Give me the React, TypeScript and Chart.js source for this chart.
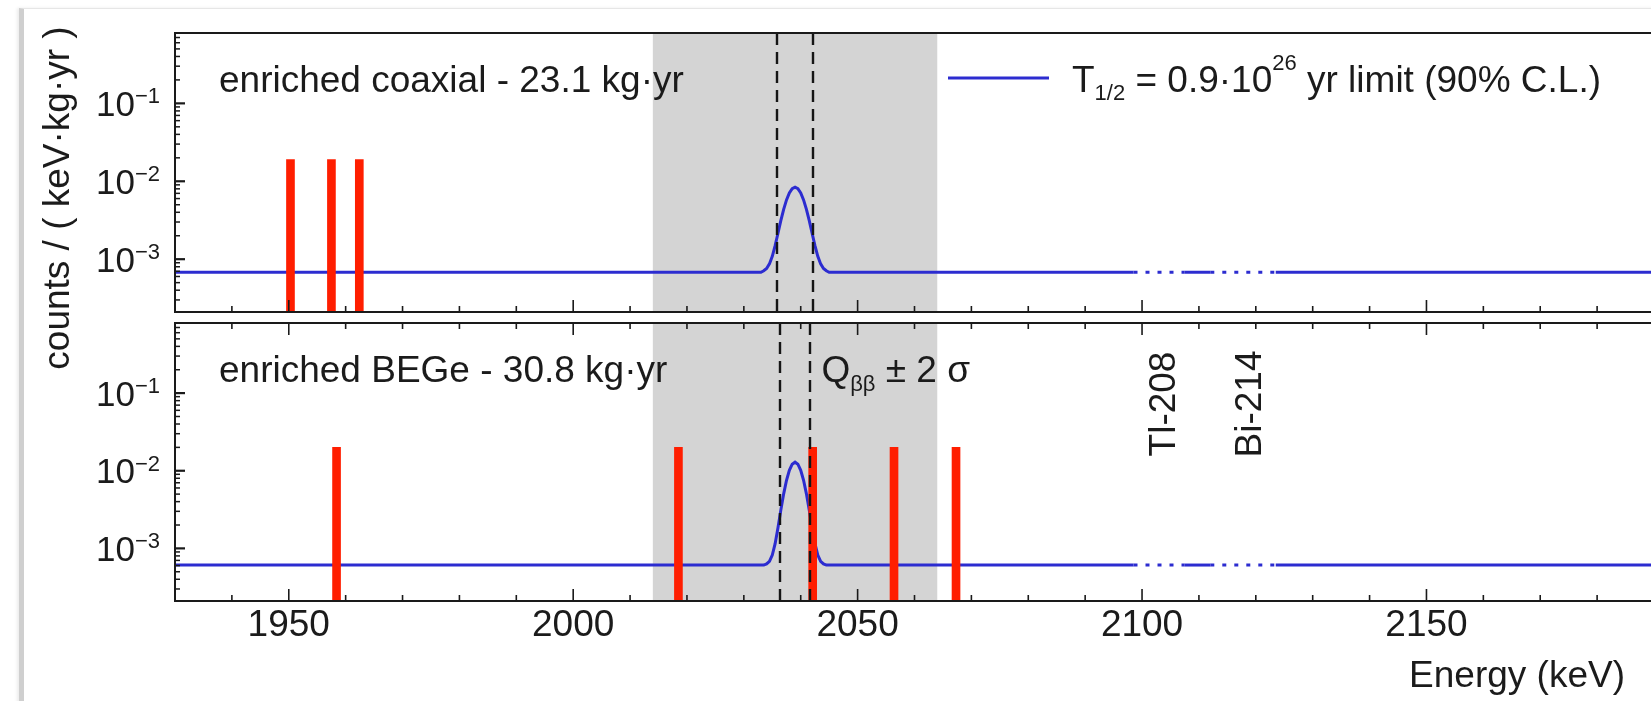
import { useEffect, useRef } from "react";
import { Chart, registerables } from "chart.js";

Chart.register(...registerables);

// ---- energy axis (keV) ----
const E_MIN = 1930;
const E_MAX = 2190;
const E_TICK_LABELS = [1950, 2000, 2050, 2100, 2150];
const E_MINOR_STEP = 10;

// ---- rate axis: counts / (keV·kg·yr), logarithmic ----
const RATE_MIN = 2.1e-4;
const RATE_MAX = 0.8;
const RATE_TICK_EXPONENTS = [-1, -2, -3];

// ---- blinded window and Qββ ± 2σ ----
const BLIND_WINDOW = [2014, 2064];
const COAX_QBB_2SIGMA = [2035.8, 2042.2];
const BEGE_QBB_2SIGMA = [2036.3, 2041.7];

// ---- background gamma lines excluded from the fit ----
const GAMMA_LINES = [2103.5, 2118.6];
const GAMMA_LABELS = ["Tl-208", "Bi-214"];
const EXCLUDED_WINDOWS = [
  [2098.5, 2107.5],
  [2112, 2123.5],
];

// ---- observed events ----
const COAX_EVENTS = [1950.3, 1957.5, 1962.4];
const COAX_EVENT_RATE = 0.019;
const BEGE_EVENTS = [1958.4, 2018.5, 2042.1, 2056.4, 2067.3];
const BEGE_EVENT_RATE = 0.02;

// ---- 90% C.L. limit curve (background + signal at T1/2 limit) ----
const LIMIT_ENERGY = [
  1930, 2033, 2033.5, 2034, 2034.5, 2035, 2035.5, 2036, 2036.5, 2037, 2037.5,
  2038, 2038.5, 2039, 2039.5, 2040, 2040.5, 2041, 2041.5, 2042, 2042.5, 2043,
  2043.5, 2044, 2044.5, 2045, 2098.5, 2107.5, 2112, 2123.5, 2190,
];
const COAX_LIMIT = [
  6.8e-4, 6.8e-4, 7.1e-4, 7.6e-4, 8.7e-4, 1.09e-3, 1.49e-3, 2.15e-3, 3.12e-3,
  4.37e-3, 5.77e-3, 7.09e-3, 8.03e-3, 8.4e-3, 8.03e-3, 7.09e-3, 5.77e-3,
  4.37e-3, 3.12e-3, 2.15e-3, 1.49e-3, 1.09e-3, 8.7e-4, 7.6e-4, 7.1e-4, 6.8e-4,
  6.8e-4, 6.8e-4, 6.8e-4, 6.8e-4, 6.8e-4,
];
const BEGE_LIMIT = [
  6.1e-4, 6.1e-4, 6.1e-4, 6.3e-4, 6.8e-4, 8.2e-4, 1.15e-3, 1.85e-3, 3.11e-3,
  5.04e-3, 7.54e-3, 1.014e-2, 1.215e-2, 1.29e-2, 1.215e-2, 1.014e-2, 7.54e-3,
  5.04e-3, 3.11e-3, 1.85e-3, 1.15e-3, 8.2e-4, 6.8e-4, 6.3e-4, 6.1e-4, 6.1e-4,
  6.1e-4, 6.1e-4, 6.1e-4, 6.1e-4, 6.1e-4,
];

// ---- styling ----
const FONT = "'Liberation Sans', Arial, Helvetica, sans-serif";
const TEXT_SIZE = 37;
const INK = "#1b1b1b";
const RED = "#ff1e00";
const BLUE = "#2c2cd0";
const BAND = "#d4d4d4";

const CANVAS_W = 1680;
const CANVAS_H = 701;
const PLOT_LEFT = 175;
const PLOT_RIGHT = 1654;
const TOP_PANEL = { top: 33, bottom: 312 };
const BOTTOM_PANEL = { top: 323, bottom: 601 };
const X_AXIS_HEIGHT = 60;

type Run = { t: string; size: number; dy?: number };

function runsWidth(ctx: CanvasRenderingContext2D, runs: Run[]) {
  let w = 0;
  for (const r of runs) {
    ctx.font = `${r.size}px ${FONT}`;
    w += ctx.measureText(r.t).width;
  }
  return w;
}

function drawRuns(ctx: CanvasRenderingContext2D, x: number, y: number, runs: Run[]) {
  let cx = x;
  ctx.textAlign = "left";
  ctx.textBaseline = "alphabetic";
  for (const r of runs) {
    ctx.font = `${r.size}px ${FONT}`;
    ctx.fillText(r.t, cx, y + (r.dy || 0));
    cx += ctx.measureText(r.t).width;
  }
}

function inExcluded(e0: number, e1: number) {
  return EXCLUDED_WINDOWS.some(([lo, hi]) => e0 >= lo && e1 <= hi);
}

type PanelSpec = {
  key: string;
  title: string;
  events: number[];
  eventRate: number;
  limit: number[];
  qbb: number[];
  isBottom: boolean;
};

function decorPlugin(p: PanelSpec) {
  return {
    id: "decor_" + p.key,
    beforeDatasetsDraw(chart: any) {
      const { ctx, chartArea: a, scales } = chart;
      const x = scales.x;
      const x0 = x.getPixelForValue(BLIND_WINDOW[0]);
      const x1 = x.getPixelForValue(BLIND_WINDOW[1]);
      ctx.save();
      ctx.fillStyle = BAND;
      ctx.fillRect(x0, a.top, x1 - x0, a.bottom - a.top);
      ctx.restore();
    },
    afterDatasetsDraw(chart: any) {
      const { ctx, chartArea: a, scales } = chart;
      ctx.save();
      ctx.strokeStyle = "#151515";
      ctx.lineWidth = 2.4;
      ctx.setLineDash([12, 7]);
      for (const q of p.qbb) {
        const px = Math.round(scales.x.getPixelForValue(q));
        ctx.beginPath();
        ctx.moveTo(px, a.top);
        ctx.lineTo(px, a.bottom);
        ctx.stroke();
      }
      ctx.restore();
    },
    afterDraw(chart: any) {
      const { ctx, chartArea: a, scales } = chart;
      const x = scales.x;
      const y = scales.y;
      ctx.save();

      // frame
      ctx.strokeStyle = "#1a1a1a";
      ctx.lineWidth = 2;
      ctx.strokeRect(a.left, a.top, a.right - a.left, a.bottom - a.top);

      // energy ticks, pointing inwards
      ctx.lineWidth = 1.6;
      const edges = p.isBottom ? ["top", "bottom"] : ["bottom"];
      for (let e = Math.ceil(E_MIN / E_MINOR_STEP) * E_MINOR_STEP; e <= E_MAX; e += E_MINOR_STEP) {
        if (e <= E_MIN || e >= E_MAX) continue;
        const px = x.getPixelForValue(e);
        const len = E_TICK_LABELS.includes(e) ? 12 : 6;
        for (const edge of edges) {
          ctx.beginPath();
          if (edge === "bottom") {
            ctx.moveTo(px, a.bottom);
            ctx.lineTo(px, a.bottom - len);
          } else {
            ctx.moveTo(px, a.top);
            ctx.lineTo(px, a.top + len);
          }
          ctx.stroke();
        }
      }

      // rate ticks on the left edge
      for (let ex = -4; ex <= 0; ex++) {
        for (let k = 1; k <= 9; k++) {
          const v = k * Math.pow(10, ex);
          if (v <= RATE_MIN || v >= RATE_MAX) continue;
          const py = y.getPixelForValue(v);
          const len = k === 1 ? 10 : 5;
          ctx.lineWidth = k === 1 ? 2.2 : 1.5;
          ctx.beginPath();
          ctx.moveTo(a.left, py);
          ctx.lineTo(a.left + len, py);
          ctx.stroke();
        }
      }

      // rate tick labels 10^n
      ctx.fillStyle = INK;
      for (const ex of RATE_TICK_EXPONENTS) {
        const py = y.getPixelForValue(Math.pow(10, ex));
        const runs: Run[] = [
          { t: "10", size: 35 },
          { t: "\u2212" + String(-ex), size: 22, dy: -12.5 },
        ];
        const w = runsWidth(ctx, runs);
        drawRuns(ctx, a.left - 15 - w, py + 12.5, runs);
      }

      // panel title
      ctx.font = `${TEXT_SIZE}px ${FONT}`;
      ctx.textAlign = "left";
      ctx.textBaseline = "alphabetic";
      ctx.fillText(p.title, a.left + 44, a.top + 59);

      if (!p.isBottom) {
        // legend
        ctx.strokeStyle = BLUE;
        ctx.lineWidth = 3;
        ctx.beginPath();
        ctx.moveTo(948, a.top + 45);
        ctx.lineTo(1049, a.top + 45);
        ctx.stroke();
        drawRuns(ctx, 1072, a.top + 59, [
          { t: "T", size: TEXT_SIZE },
          { t: "1/2", size: 22, dy: 8 },
          { t: " = 0.9\u00b710", size: TEXT_SIZE },
          { t: "26", size: 22, dy: -22 },
          { t: " yr limit (90% C.L.)", size: TEXT_SIZE },
        ]);

        // y-axis title
        ctx.save();
        ctx.translate(69, 198);
        ctx.rotate(-Math.PI / 2);
        ctx.font = `${TEXT_SIZE}px ${FONT}`;
        ctx.textAlign = "center";
        ctx.textBaseline = "alphabetic";
        ctx.fillText("counts / ( keV\u00b7kg\u00b7yr )", 0, 0);
        ctx.restore();
      } else {
        // Qββ ± 2σ label
        const qx = x.getPixelForValue(p.qbb[1]) + 11;
        drawRuns(ctx, qx, a.top + 59, [
          { t: "Q", size: TEXT_SIZE },
          { t: "\u03b2\u03b2", size: 22, dy: 9 },
          { t: " \u00b1 2 \u03c3", size: TEXT_SIZE },
        ]);

        // gamma line labels, vertical
        GAMMA_LINES.forEach((e, i) => {
          ctx.save();
          ctx.translate(x.getPixelForValue(e) + 13, a.top + 81);
          ctx.rotate(-Math.PI / 2);
          ctx.font = `${TEXT_SIZE}px ${FONT}`;
          ctx.textAlign = "center";
          ctx.textBaseline = "alphabetic";
          ctx.fillText(GAMMA_LABELS[i], 0, 0);
          ctx.restore();
        });

        // energy axis title
        ctx.font = `${TEXT_SIZE}px ${FONT}`;
        ctx.textAlign = "right";
        ctx.textBaseline = "alphabetic";
        ctx.fillText("Energy (keV)", a.right - 29, a.bottom + 86);
      }

      ctx.restore();
    },
  };
}

function buildConfig(p: PanelSpec): any {
  const panel = p.isBottom ? BOTTOM_PANEL : TOP_PANEL;
  const padding = p.isBottom
    ? { left: PLOT_LEFT, top: panel.top, right: CANVAS_W - PLOT_RIGHT, bottom: CANVAS_H - panel.bottom - X_AXIS_HEIGHT }
    : { left: PLOT_LEFT, top: panel.top, right: CANVAS_W - PLOT_RIGHT, bottom: CANVAS_H - panel.bottom };

  const xScale: any = {
    type: "linear",
    min: E_MIN,
    max: E_MAX,
    offset: false,
    display: p.isBottom,
    grid: { display: false, drawTicks: false },
    border: { display: false },
    afterBuildTicks: (scale: any) => {
      scale.ticks = E_TICK_LABELS.map((v) => ({ value: v }));
    },
    ticks: {
      autoSkip: false,
      maxRotation: 0,
      padding: 3,
      color: INK,
      font: { family: FONT, size: TEXT_SIZE },
      callback: (v: any) => String(v),
    },
  };
  if (p.isBottom) {
    xScale.afterFit = (scale: any) => {
      scale.height = X_AXIS_HEIGHT;
    };
  }

  return {
    type: "bar",
    data: {
      datasets: [
        {
          type: "bar",
          label: "events",
          data: p.events.map((e) => ({ x: e, y: p.eventRate })),
          backgroundColor: RED,
          borderWidth: 0,
          barThickness: 8,
          base: RATE_MIN,
          order: 0,
        },
        {
          type: "line",
          label: "limit",
          data: LIMIT_ENERGY.map((e, i) => ({ x: e, y: p.limit[i] })),
          borderColor: BLUE,
          borderWidth: 3,
          pointRadius: 0,
          tension: 0,
          fill: false,
          order: 1,
          segment: {
            borderDash: (ctx: any) =>
              inExcluded(ctx.p0.parsed.x, ctx.p1.parsed.x) ? [4, 8] : undefined,
          },
        },
      ],
    },
    options: {
      responsive: false,
      animation: false,
      devicePixelRatio: 1,
      events: [],
      layout: { padding },
      plugins: { legend: { display: false }, tooltip: { enabled: false } },
      scales: {
        x: xScale,
        y: {
          type: "logarithmic",
          min: RATE_MIN,
          max: RATE_MAX,
          display: false,
        },
      },
    },
    plugins: [decorPlugin(p)],
  };
}

const PANELS: PanelSpec[] = [
  {
    key: "coax",
    title: "enriched coaxial - 23.1 kg\u00b7yr",
    events: COAX_EVENTS,
    eventRate: COAX_EVENT_RATE,
    limit: COAX_LIMIT,
    qbb: COAX_QBB_2SIGMA,
    isBottom: false,
  },
  {
    key: "bege",
    title: "enriched BEGe - 30.8 kg\u00b7yr",
    events: BEGE_EVENTS,
    eventRate: BEGE_EVENT_RATE,
    limit: BEGE_LIMIT,
    qbb: BEGE_QBB_2SIGMA,
    isBottom: true,
  },
];

export default function App() {
  const topRef = useRef<HTMLCanvasElement | null>(null);
  const bottomRef = useRef<HTMLCanvasElement | null>(null);

  useEffect(() => {
    const charts: Chart[] = [];
    if (topRef.current) charts.push(new Chart(topRef.current, buildConfig(PANELS[0])));
    if (bottomRef.current) charts.push(new Chart(bottomRef.current, buildConfig(PANELS[1])));
    return () => charts.forEach((c) => c.destroy());
  }, []);

  const canvasStyle: React.CSSProperties = {
    position: "absolute",
    left: 0,
    top: 0,
    width: CANVAS_W,
    height: CANVAS_H,
  };

  return (
    <div
      style={{
        position: "fixed",
        left: 0,
        top: 0,
        width: 1651,
        height: 701,
        overflow: "hidden",
        background: "#ffffff",
      }}
    >
      <div
        style={{
          position: "absolute",
          left: 19,
          top: 8,
          right: -20,
          bottom: -20,
          borderLeft: "5px solid #cfcfcf",
          borderTop: "1px solid #e6e6e6",
          boxShadow: "-2px 0 3px rgba(0,0,0,0.08)",
          background: "#ffffff",
        }}
      />
      <canvas ref={topRef} width={CANVAS_W} height={CANVAS_H} style={canvasStyle} />
      <canvas ref={bottomRef} width={CANVAS_W} height={CANVAS_H} style={canvasStyle} />
    </div>
  );
}
